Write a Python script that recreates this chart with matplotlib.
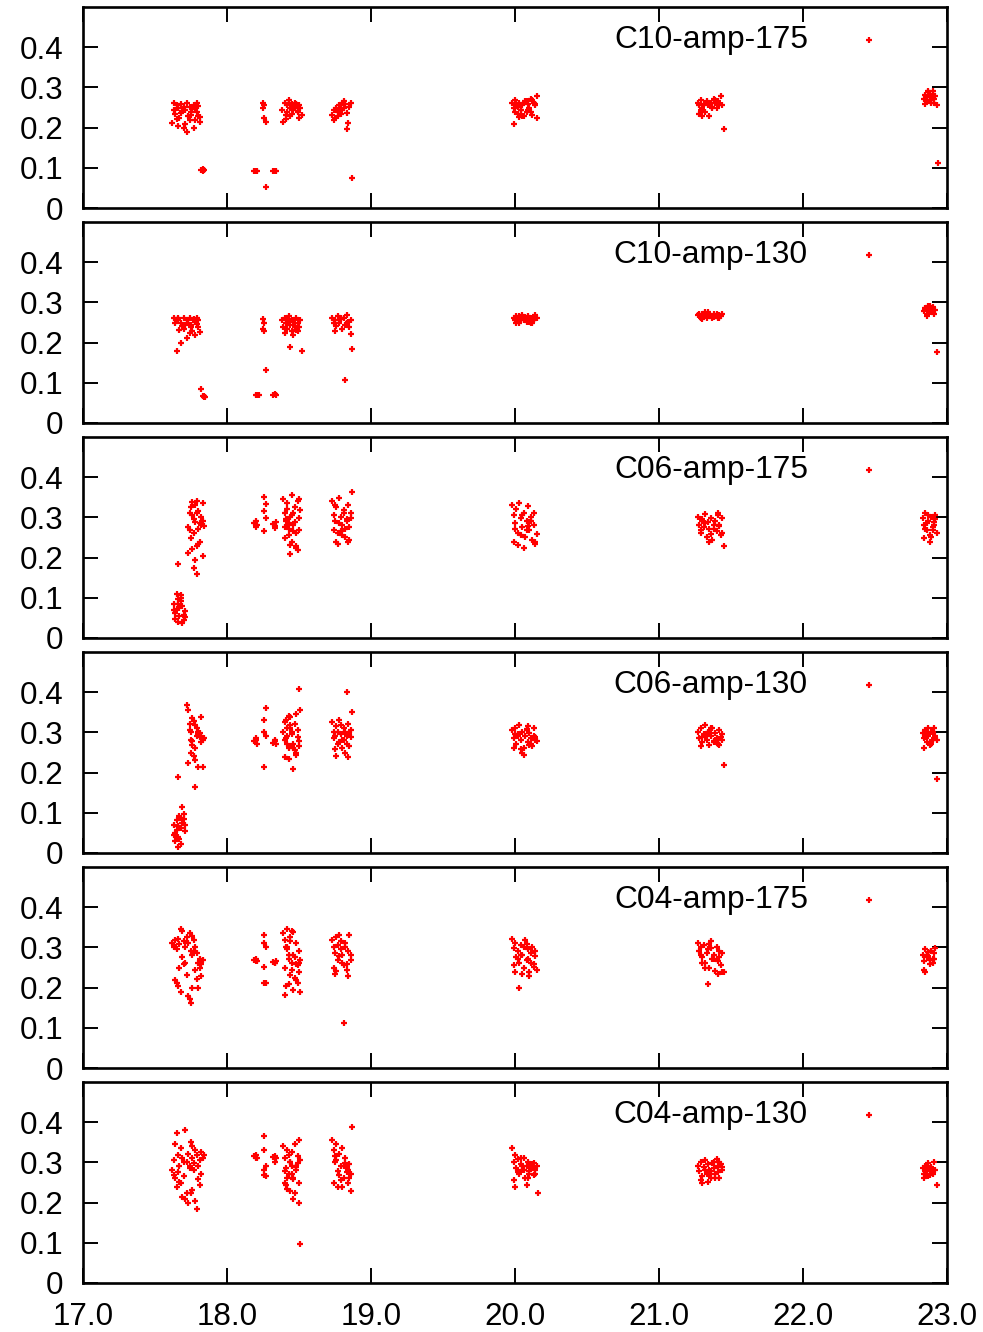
import matplotlib
matplotlib.use("Agg")
import matplotlib.pyplot as plt

plt.rcParams['font.family'] = ['Liberation Sans', 'DejaVu Sans']

panel_names = ["C10-amp-175", "C10-amp-130", "C06-amp-175", "C06-amp-130", "C04-amp-175", "C04-amp-130"]
x_ticks = [17.0, 18.0, 19.0, 20.0, 21.0, 22.0, 23.0]
x_tick_labels = ["17.0", "18.0", "19.0", "20.0", "21.0", "22.0", "23.0"]
y_ticks = [0, 0.1, 0.2, 0.3, 0.4]
y_tick_labels = ["0", "0.1", "0.2", "0.3", "0.4"]

# ---------------- C10-amp-175 ----------------
c10_175_x = [
    [17.63,17.65,17.66,17.68,17.70,17.71,17.72,17.74,17.75,17.77,17.78,17.79,17.80,17.81,17.64,17.67,17.69,17.73,17.76,17.78,17.62,17.66,17.70,17.74,17.79,17.81,17.63,17.68,17.72,17.77,17.80,17.65,17.71,17.75],
    [17.82,17.83,17.84,17.83],
    [18.25,18.26,18.26,18.27,18.25],
    [18.19,18.20,18.21,18.32,18.33,18.34,18.27],
    [18.38,18.40,18.41,18.42,18.43,18.44,18.45,18.46,18.47,18.48,18.49,18.50,18.51,18.39,18.42,18.45,18.48,18.50,18.44,18.47,18.41,18.49,18.52,18.43],
    [18.73,18.74,18.75,18.76,18.77,18.78,18.79,18.80,18.81,18.82,18.83,18.84,18.85,18.86,18.74,18.77,18.80,18.83,18.79,18.81,18.87],
    [19.98,19.99,20.00,20.01,20.02,20.03,20.04,20.05,20.06,20.07,20.08,20.09,20.10,20.11,20.12,20.13,20.14,20.15,20.00,20.03,20.06,20.09,20.12,20.15,20.02,20.05,20.08,20.11,20.14,19.99,20.04],
    [21.27,21.28,21.29,21.30,21.31,21.32,21.33,21.34,21.35,21.36,21.37,21.38,21.39,21.40,21.41,21.42,21.43,21.44,21.29,21.33,21.37,21.41,21.30,21.39,21.28,21.45],
    [22.84,22.85,22.86,22.87,22.88,22.89,22.90,22.91,22.92,22.85,22.87,22.89,22.91,22.86,22.90,22.93,22.88,22.94],
]
c10_175_y = [
    [0.262,0.255,0.248,0.258,0.251,0.245,0.260,0.252,0.240,0.257,0.250,0.261,0.228,0.215,0.235,0.225,0.242,0.230,0.247,0.220,0.212,0.205,0.198,0.218,0.238,0.226,0.243,0.236,0.190,0.200,0.254,0.222,0.209,0.232],
    [0.095,0.092,0.094,0.097],
    [0.262,0.255,0.225,0.215,0.248],
    [0.092,0.093,0.091,0.091,0.093,0.092,0.052],
    [0.245,0.262,0.232,0.255,0.268,0.250,0.258,0.244,0.262,0.253,0.238,0.225,0.248,0.214,0.240,0.235,0.258,0.256,0.228,0.250,0.222,0.242,0.231,0.260],
    [0.232,0.245,0.225,0.250,0.240,0.255,0.235,0.262,0.248,0.258,0.196,0.212,0.252,0.260,0.218,0.228,0.243,0.236,0.250,0.265,0.075],
    [0.262,0.250,0.268,0.258,0.235,0.262,0.245,0.255,0.228,0.265,0.240,0.258,0.250,0.272,0.232,0.262,0.255,0.278,0.240,0.226,0.260,0.243,0.268,0.223,0.252,0.230,0.266,0.238,0.258,0.208,0.245],
    [0.262,0.255,0.268,0.250,0.258,0.240,0.265,0.256,0.230,0.262,0.252,0.272,0.260,0.248,0.265,0.258,0.278,0.255,0.245,0.260,0.250,0.262,0.228,0.268,0.235,0.196],
    [0.272,0.282,0.265,0.288,0.275,0.260,0.283,0.270,0.278,0.258,0.292,0.268,0.262,0.276,0.290,0.255,0.280,0.113],
]

# ---------------- C10-amp-130 ----------------
c10_130_x = [
    [17.63,17.65,17.66,17.68,17.70,17.71,17.72,17.74,17.75,17.77,17.78,17.79,17.80,17.81,17.64,17.67,17.69,17.73,17.76,17.78,17.66,17.70,17.74,17.79,17.68,17.72,17.77,17.80,17.65,17.75],
    [17.82,17.83,17.84,17.84,17.85],
    [18.25,18.26,18.25,18.26],
    [18.20,18.21,18.22,18.32,18.33,18.34,18.27],
    [18.38,18.39,18.40,18.41,18.42,18.43,18.44,18.45,18.46,18.47,18.48,18.49,18.50,18.51,18.40,18.43,18.46,18.49,18.42,18.45,18.48,18.44,18.47,18.52],
    [18.73,18.74,18.75,18.76,18.77,18.78,18.79,18.80,18.81,18.82,18.83,18.84,18.85,18.86,18.75,18.79,18.83,18.86,18.87,18.82],
    [19.99,20.00,20.01,20.02,20.03,20.04,20.05,20.06,20.07,20.08,20.09,20.10,20.11,20.12,20.13,20.14,20.15,20.01,20.04,20.07,20.10,20.13,20.03,20.09,20.12],
    [21.27,21.28,21.29,21.30,21.31,21.32,21.33,21.34,21.35,21.36,21.37,21.38,21.39,21.40,21.41,21.42,21.43,21.44,21.30,21.34,21.38,21.42],
    [22.84,22.85,22.86,22.87,22.88,22.89,22.90,22.91,22.92,22.86,22.88,22.90,22.85,22.89,22.93],
]
c10_130_y = [
    [0.262,0.255,0.258,0.250,0.262,0.245,0.256,0.260,0.240,0.258,0.252,0.262,0.238,0.226,0.248,0.232,0.242,0.250,0.228,0.218,0.262,0.235,0.225,0.247,0.200,0.212,0.256,0.255,0.179,0.244],
    [0.084,0.068,0.065,0.067,0.064],
    [0.258,0.250,0.235,0.228],
    [0.070,0.069,0.070,0.069,0.071,0.070,0.132],
    [0.255,0.240,0.262,0.250,0.235,0.258,0.245,0.230,0.252,0.242,0.260,0.248,0.238,0.255,0.225,0.265,0.218,0.228,0.248,0.255,0.232,0.190,0.240,0.180],
    [0.262,0.250,0.255,0.242,0.265,0.248,0.258,0.235,0.260,0.245,0.268,0.252,0.238,0.255,0.228,0.262,0.248,0.222,0.184,0.107],
    [0.262,0.255,0.265,0.258,0.250,0.262,0.268,0.255,0.260,0.252,0.265,0.258,0.248,0.262,0.255,0.268,0.260,0.250,0.256,0.264,0.252,0.258,0.266,0.262,0.250],
    [0.268,0.272,0.262,0.270,0.265,0.275,0.262,0.268,0.272,0.265,0.260,0.270,0.266,0.272,0.262,0.268,0.265,0.270,0.258,0.275,0.264,0.260],
    [0.278,0.285,0.272,0.290,0.280,0.275,0.288,0.270,0.282,0.265,0.292,0.276,0.283,0.286,0.176],
]

# ---------------- C06-amp-175 ----------------
c06_175_x = [
    [17.73,17.74,17.75,17.76,17.77,17.78,17.79,17.80,17.81,17.82,17.83,17.84,17.74,17.76,17.78,17.80,17.82,17.75,17.77,17.79,17.81,17.73,17.76,17.78,17.80,17.83,17.77,17.79,17.66,17.79,17.83],
    [17.63,17.64,17.65,17.66,17.67,17.68,17.69,17.70,17.71,17.64,17.66,17.68,17.70,17.65,17.67,17.69,17.63,17.71,17.66,17.68],
    [18.19,18.20,18.21,18.20,18.32,18.33,18.34,18.33,18.26,18.26,18.27,18.26,18.27],
    [18.39,18.40,18.41,18.42,18.43,18.44,18.45,18.46,18.47,18.48,18.49,18.50,18.51,18.40,18.42,18.44,18.46,18.48,18.50,18.41,18.43,18.45,18.47,18.49,18.42,18.46,18.44,18.48,18.40,18.50,18.45,18.43],
    [18.73,18.74,18.75,18.76,18.77,18.78,18.79,18.80,18.81,18.82,18.83,18.84,18.85,18.86,18.74,18.76,18.78,18.80,18.82,18.84,18.86,18.75,18.79,18.83,18.77,18.81,18.85,18.87],
    [19.98,19.99,20.00,20.01,20.02,20.03,20.04,20.05,20.06,20.07,20.08,20.09,20.10,20.11,20.12,20.13,20.14,20.15,19.99,20.02,20.05,20.08,20.11,20.14,20.00,20.04,20.09,20.13,20.06,20.10],
    [21.27,21.28,21.29,21.30,21.31,21.32,21.33,21.34,21.35,21.36,21.37,21.38,21.39,21.40,21.41,21.42,21.43,21.44,21.29,21.32,21.35,21.38,21.41,21.44,21.30,21.36,21.42,21.45],
    [22.83,22.84,22.85,22.86,22.87,22.88,22.89,22.90,22.91,22.92,22.93,22.84,22.86,22.88,22.90,22.92,22.85,22.89,22.87,22.91],
]
c06_175_y = [
    [0.275,0.310,0.325,0.338,0.295,0.330,0.342,0.315,0.285,0.282,0.290,0.278,0.268,0.305,0.288,0.272,0.300,0.248,0.262,0.230,0.240,0.212,0.222,0.195,0.235,0.205,0.175,0.160,0.184,0.312,0.335],
    [0.085,0.062,0.072,0.098,0.055,0.108,0.080,0.045,0.068,0.048,0.040,0.092,0.058,0.110,0.075,0.038,0.070,0.052,0.085,0.100],
    [0.286,0.290,0.280,0.275,0.283,0.278,0.288,0.274,0.266,0.350,0.333,0.315,0.298],
    [0.345,0.312,0.290,0.335,0.270,0.300,0.355,0.282,0.325,0.262,0.340,0.298,0.318,0.248,0.278,0.232,0.310,0.225,0.268,0.295,0.255,0.240,0.288,0.218,0.322,0.265,0.210,0.230,0.275,0.345,0.305,0.285],
    [0.340,0.305,0.290,0.325,0.262,0.348,0.300,0.280,0.318,0.250,0.295,0.332,0.245,0.310,0.268,0.240,0.285,0.255,0.272,0.238,0.298,0.330,0.265,0.290,0.233,0.310,0.275,0.362],
    [0.330,0.305,0.285,0.320,0.262,0.335,0.298,0.275,0.312,0.250,0.290,0.328,0.268,0.300,0.245,0.282,0.235,0.258,0.240,0.232,0.305,0.268,0.292,0.240,0.272,0.255,0.278,0.310,0.225,0.288],
    [0.300,0.280,0.262,0.295,0.275,0.308,0.250,0.288,0.270,0.298,0.245,0.282,0.292,0.265,0.305,0.278,0.255,0.298,0.268,0.285,0.240,0.272,0.310,0.262,0.290,0.258,0.282,0.228],
    [0.298,0.280,0.310,0.268,0.292,0.255,0.300,0.275,0.288,0.305,0.262,0.248,0.285,0.240,0.268,0.295,0.272,0.252,0.305,0.280],
]

# ---------------- C06-amp-130 ----------------
c06_130_x = [
    [17.72,17.73,17.74,17.75,17.76,17.77,17.78,17.79,17.80,17.81,17.82,17.83,17.84,17.74,17.76,17.78,17.80,17.82,17.75,17.77,17.79,17.81,17.73,17.76,17.78,17.80,17.75,17.83,17.66,17.78,17.82],
    [17.63,17.64,17.65,17.66,17.67,17.68,17.69,17.70,17.71,17.64,17.66,17.68,17.70,17.65,17.67,17.69,17.63,17.71,17.66,17.68],
    [18.19,18.20,18.21,18.20,18.32,18.33,18.34,18.33,18.26,18.26,18.27,18.26,18.27],
    [18.39,18.40,18.41,18.42,18.43,18.44,18.45,18.46,18.47,18.48,18.49,18.50,18.51,18.40,18.42,18.44,18.46,18.48,18.50,18.41,18.43,18.45,18.47,18.49,18.42,18.46,18.44,18.48,18.40,18.50,18.45,18.43],
    [18.73,18.74,18.75,18.76,18.77,18.78,18.79,18.80,18.81,18.82,18.83,18.84,18.85,18.86,18.74,18.76,18.78,18.80,18.82,18.84,18.86,18.75,18.79,18.83,18.77,18.81,18.85,18.87,18.83],
    [19.98,19.99,20.00,20.01,20.02,20.03,20.04,20.05,20.06,20.07,20.08,20.09,20.10,20.11,20.12,20.13,20.14,20.15,19.99,20.02,20.05,20.08,20.11,20.14,20.00,20.04,20.09,20.13,20.06,20.10],
    [21.27,21.28,21.29,21.30,21.31,21.32,21.33,21.34,21.35,21.36,21.37,21.38,21.39,21.40,21.41,21.42,21.43,21.44,21.29,21.32,21.35,21.38,21.41,21.44,21.30,21.36,21.42,21.45],
    [22.83,22.84,22.85,22.86,22.87,22.88,22.89,22.90,22.91,22.92,22.93,22.84,22.86,22.88,22.90,22.85,22.89,22.87,22.91,22.93],
]
c06_130_y = [
    [0.368,0.355,0.320,0.300,0.335,0.328,0.318,0.290,0.295,0.288,0.292,0.282,0.285,0.305,0.278,0.262,0.300,0.275,0.250,0.242,0.312,0.298,0.225,0.268,0.232,0.215,0.280,0.214,0.190,0.164,0.338],
    [0.070,0.050,0.082,0.040,0.092,0.062,0.075,0.098,0.055,0.030,0.068,0.022,0.085,0.058,0.035,0.114,0.045,0.070,0.015,0.088],
    [0.278,0.282,0.272,0.285,0.274,0.278,0.270,0.280,0.300,0.330,0.360,0.214,0.290],
    [0.300,0.325,0.285,0.312,0.260,0.338,0.295,0.272,0.320,0.248,0.305,0.265,0.355,0.240,0.290,0.318,0.262,0.345,0.278,0.330,0.235,0.300,0.255,0.288,0.270,0.210,0.310,0.245,0.282,0.408,0.265,0.340],
    [0.325,0.300,0.290,0.315,0.270,0.330,0.295,0.280,0.310,0.250,0.292,0.320,0.265,0.305,0.285,0.242,0.275,0.262,0.300,0.240,0.288,0.258,0.318,0.272,0.302,0.282,0.298,0.350,0.400],
    [0.305,0.285,0.312,0.270,0.295,0.318,0.280,0.300,0.262,0.290,0.308,0.275,0.298,0.285,0.265,0.310,0.288,0.278,0.262,0.292,0.250,0.305,0.272,0.282,0.295,0.258,0.315,0.290,0.245,0.268],
    [0.300,0.285,0.310,0.275,0.295,0.318,0.280,0.300,0.268,0.290,0.312,0.278,0.298,0.285,0.270,0.305,0.288,0.280,0.265,0.292,0.302,0.275,0.282,0.295,0.288,0.310,0.268,0.218],
    [0.298,0.285,0.305,0.275,0.292,0.268,0.300,0.280,0.310,0.290,0.282,0.262,0.295,0.275,0.302,0.288,0.270,0.312,0.285,0.184],
]

# ---------------- C04-amp-175 ----------------
c04_175_x = [
    [17.62,17.63,17.64,17.65,17.66,17.67,17.68,17.69,17.70,17.71,17.72,17.73,17.74,17.75,17.76,17.77,17.78,17.79,17.80,17.81,17.82,17.83,17.64,17.66,17.68,17.70,17.72,17.74,17.76,17.78,17.80,17.82,17.65,17.69,17.73,17.77,17.81,17.67,17.71,17.75,17.79,17.63,17.76],
    [18.19,18.20,18.21,18.20,18.32,18.33,18.34,18.33,18.26,18.26,18.27,18.26,18.27,18.26],
    [18.39,18.40,18.41,18.42,18.43,18.44,18.45,18.46,18.47,18.48,18.49,18.50,18.51,18.40,18.42,18.44,18.46,18.48,18.50,18.41,18.43,18.45,18.47,18.49,18.42,18.46,18.44,18.48,18.40,18.50,18.45,18.43,18.51],
    [18.73,18.74,18.75,18.76,18.77,18.78,18.79,18.80,18.81,18.82,18.83,18.84,18.85,18.86,18.74,18.76,18.78,18.80,18.82,18.84,18.86,18.75,18.79,18.83,18.77,18.81],
    [19.98,19.99,20.00,20.01,20.02,20.03,20.04,20.05,20.06,20.07,20.08,20.09,20.10,20.11,20.12,20.13,20.14,20.15,19.99,20.02,20.05,20.08,20.11,20.14,20.00,20.04,20.09,20.13,20.06,20.10,20.03],
    [21.27,21.28,21.29,21.30,21.31,21.32,21.33,21.34,21.35,21.36,21.37,21.38,21.39,21.40,21.41,21.42,21.43,21.44,21.29,21.32,21.35,21.38,21.41,21.44,21.30,21.36,21.42,21.45,21.34],
    [22.83,22.84,22.85,22.86,22.87,22.88,22.89,22.90,22.91,22.92,22.84,22.86,22.88,22.90,22.85,22.89,22.87,22.91],
]
c04_175_y = [
    [0.312,0.305,0.318,0.295,0.322,0.308,0.345,0.340,0.315,0.300,0.325,0.310,0.335,0.292,0.328,0.318,0.300,0.285,0.262,0.270,0.258,0.268,0.220,0.205,0.188,0.258,0.232,0.172,0.280,0.245,0.198,0.230,0.212,0.275,0.178,0.290,0.248,0.250,0.262,0.162,0.222,0.300,0.198],
    [0.268,0.270,0.265,0.266,0.264,0.262,0.266,0.260,0.330,0.310,0.300,0.252,0.211,0.212],
    [0.335,0.318,0.300,0.345,0.280,0.325,0.262,0.338,0.275,0.310,0.255,0.290,0.268,0.250,0.300,0.232,0.282,0.220,0.262,0.205,0.270,0.245,0.225,0.212,0.295,0.195,0.315,0.258,0.181,0.240,0.342,0.210,0.190],
    [0.318,0.300,0.285,0.325,0.268,0.330,0.295,0.280,0.255,0.312,0.245,0.290,0.332,0.268,0.250,0.242,0.278,0.262,0.300,0.228,0.282,0.235,0.315,0.258,0.305,0.112],
    [0.320,0.298,0.310,0.275,0.292,0.262,0.305,0.280,0.250,0.318,0.268,0.295,0.240,0.285,0.302,0.258,0.278,0.245,0.255,0.270,0.235,0.308,0.262,0.290,0.240,0.282,0.272,0.252,0.300,0.230,0.200],
    [0.312,0.290,0.300,0.275,0.305,0.262,0.285,0.295,0.250,0.315,0.270,0.282,0.242,0.300,0.265,0.292,0.255,0.238,0.280,0.248,0.308,0.272,0.235,0.285,0.260,0.298,0.275,0.240,0.210],
    [0.282,0.265,0.295,0.275,0.288,0.258,0.292,0.270,0.285,0.298,0.245,0.280,0.268,0.262,0.240,0.290,0.278,0.272],
]

# ---------------- C04-amp-130 ----------------
c04_130_x = [
    [17.62,17.63,17.64,17.65,17.66,17.67,17.68,17.69,17.70,17.71,17.72,17.73,17.74,17.75,17.76,17.77,17.78,17.79,17.80,17.81,17.82,17.83,17.64,17.66,17.68,17.70,17.72,17.74,17.76,17.78,17.80,17.82,17.65,17.69,17.73,17.77,17.81,17.67,17.71,17.75,17.79,17.63,17.76,17.84],
    [18.19,18.20,18.21,18.20,18.32,18.33,18.34,18.33,18.26,18.26,18.27,18.26,18.27,18.26],
    [18.39,18.40,18.41,18.42,18.43,18.44,18.45,18.46,18.47,18.48,18.49,18.50,18.51,18.40,18.42,18.44,18.46,18.48,18.50,18.41,18.43,18.45,18.47,18.49,18.42,18.46,18.44,18.48,18.40,18.50,18.45,18.51],
    [18.73,18.74,18.75,18.76,18.77,18.78,18.79,18.80,18.81,18.82,18.83,18.84,18.85,18.86,18.74,18.76,18.78,18.80,18.82,18.84,18.86,18.75,18.79,18.83,18.77,18.81,18.85,18.87],
    [19.98,19.99,20.00,20.01,20.02,20.03,20.04,20.05,20.06,20.07,20.08,20.09,20.10,20.11,20.12,20.13,20.14,20.15,19.99,20.02,20.05,20.08,20.11,20.14,20.00,20.04,20.09,20.13,20.06,20.10,20.16],
    [21.27,21.28,21.29,21.30,21.31,21.32,21.33,21.34,21.35,21.36,21.37,21.38,21.39,21.40,21.41,21.42,21.43,21.44,21.29,21.32,21.35,21.38,21.41,21.44,21.30,21.36,21.42,21.34,21.39],
    [22.83,22.84,22.85,22.86,22.87,22.88,22.89,22.90,22.91,22.92,22.84,22.86,22.88,22.90,22.85,22.89,22.87,22.93],
]
c04_130_y = [
    [0.282,0.305,0.345,0.372,0.318,0.292,0.335,0.310,0.265,0.380,0.300,0.322,0.285,0.350,0.312,0.298,0.330,0.318,0.290,0.305,0.325,0.312,0.262,0.275,0.248,0.300,0.225,0.290,0.232,0.205,0.258,0.270,0.240,0.215,0.198,0.280,0.245,0.252,0.208,0.225,0.184,0.268,0.340,0.318],
    [0.316,0.318,0.312,0.310,0.313,0.316,0.310,0.302,0.365,0.330,0.290,0.280,0.265,0.268],
    [0.340,0.310,0.285,0.332,0.270,0.300,0.325,0.262,0.345,0.292,0.315,0.250,0.305,0.278,0.235,0.302,0.258,0.288,0.355,0.245,0.318,0.272,0.225,0.298,0.262,0.210,0.230,0.282,0.248,0.200,0.290,0.097],
    [0.355,0.330,0.300,0.345,0.278,0.320,0.290,0.335,0.262,0.310,0.285,0.250,0.295,0.272,0.248,0.305,0.268,0.240,0.298,0.282,0.228,0.315,0.255,0.275,0.238,0.292,0.262,0.388],
    [0.335,0.300,0.318,0.285,0.308,0.272,0.295,0.282,0.310,0.262,0.290,0.302,0.278,0.288,0.295,0.268,0.282,0.290,0.255,0.275,0.292,0.245,0.285,0.270,0.240,0.310,0.262,0.298,0.280,0.272,0.224],
    [0.292,0.278,0.300,0.265,0.288,0.305,0.272,0.295,0.282,0.260,0.298,0.285,0.270,0.308,0.290,0.262,0.295,0.280,0.255,0.282,0.268,0.300,0.275,0.288,0.248,0.278,0.300,0.252,0.262],
    [0.285,0.272,0.290,0.278,0.298,0.268,0.285,0.275,0.302,0.282,0.262,0.292,0.280,0.270,0.278,0.288,0.265,0.243],
]

panel_x = [c10_175_x, c10_130_x, c06_175_x, c06_130_x, c04_175_x, c04_130_x]
panel_y = [c10_175_y, c10_130_y, c06_175_y, c06_130_y, c04_175_y, c04_130_y]

# ---------------- layout (pixel based) ----------------
W, H = 983, 1332
fig = plt.figure(figsize=(W / 100, H / 100), dpi=100)
left_px, right_px = 83, 947
bottoms_px = [208, 423, 638, 853, 1068, 1283]
panel_h_px = 201

FS = 22.6
MS, MEW = 5.0, 1.6
for i, name in enumerate(panel_names):
    b = bottoms_px[i]
    ax = fig.add_axes([left_px / W, 1 - b / H, (right_px - left_px) / W, panel_h_px / H])
    xs, ys = [], []
    for cx, cy in zip(panel_x[i], panel_y[i]):
        for a, v in zip(cx, cy):
            xs.append(a)
            ys.append(v)
    ax.plot(xs, ys, linestyle='none', marker='+', markersize=MS,
            markeredgewidth=MEW, color='#ff0000')
    ax.set_xlim(17.0, 23.0)
    ax.set_ylim(0, 0.5)
    ax.set_yticks(y_ticks)
    ax.set_yticklabels(y_tick_labels)
    ax.set_xticks(x_ticks)
    if i == len(panel_names) - 1:
        ax.set_xticklabels(x_tick_labels)
    else:
        ax.set_xticklabels([])
    ax.tick_params(axis='both', direction='in', length=11, width=1.4,
                   top=True, right=True, labelsize=FS, colors='black')
    ax.tick_params(axis='y', pad=14)
    ax.tick_params(axis='x', pad=14)
    for s in ax.spines.values():
        s.set_linewidth(1.9)
    # key
    ax.text(0.839, 0.836, name, transform=ax.transAxes, ha='right', va='center',
            fontsize=FS + 0.3)
    ax.plot([0.910], [0.836], transform=ax.transAxes, linestyle='none', marker='+',
            markersize=MS, markeredgewidth=MEW, color='#ff0000')

fig.savefig("out.png", dpi=100)
